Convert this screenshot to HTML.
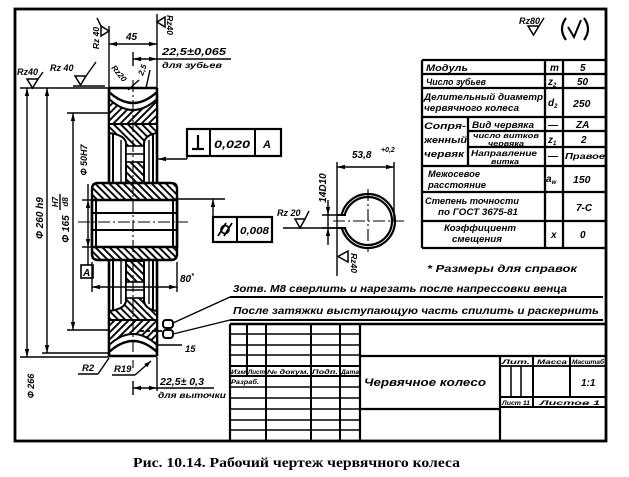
<!DOCTYPE html>
<html><head><meta charset="utf-8"><style>
html,body{margin:0;padding:0;background:#fff;}
svg{display:block;}
text{font-family:"Liberation Sans",sans-serif;font-style:italic;font-weight:bold;fill:#000;}
.cap{font-family:"Liberation Serif",serif;font-style:normal;font-weight:bold;}
.t{stroke:#000;stroke-width:1.4;fill:none;}
.m{stroke:#000;stroke-width:2;fill:none;}
.k{stroke:#000;stroke-width:2.6;fill:none;}
.cl{stroke:#000;stroke-width:1.1;fill:none;stroke-dasharray:12,3,2,3;}
</style></head><body>
<svg width="629" height="477" viewBox="0 0 629 477" xmlns="http://www.w3.org/2000/svg">
<defs>
<pattern id="ha" width="5" height="5" patternUnits="userSpaceOnUse" patternTransform="rotate(45)"><rect width="5" height="5" fill="#fff"/><line x1="2.5" y1="0" x2="2.5" y2="5" stroke="#000" stroke-width="1.9"/></pattern>
<pattern id="hb" width="5" height="5" patternUnits="userSpaceOnUse" patternTransform="rotate(-45)"><rect width="5" height="5" fill="#fff"/><line x1="2.5" y1="0" x2="2.5" y2="5" stroke="#000" stroke-width="1.9"/></pattern>
</defs>

<!-- frame -->
<rect x="15" y="9" width="591" height="432" fill="none" stroke="#000" stroke-width="2.8"/>

<!-- ===== Gear section: top half ===== -->
<line class="k" x1="109" y1="88" x2="109" y2="183"/>
<line class="k" x1="157" y1="88" x2="157" y2="183"/>
<line class="k" x1="109" y1="88" x2="157" y2="88"/>
<path d="M109,92 Q133,114 157,92" fill="none" stroke="#000" stroke-width="2.4"/>
<path d="M109,99 Q133,121 157,99 V124 H109 Z" fill="url(#ha)" stroke="#000" stroke-width="2"/>
<path d="M109,124 H157 V133 Q145,135 144,143 V183 H126 V143 Q125,135 109,133 Z" fill="url(#hb)" stroke="#000" stroke-width="2"/>
<line class="m" x1="113" y1="133" x2="113" y2="183"/>
<line class="m" x1="153" y1="133" x2="153" y2="183"/>
<line class="t" x1="121" y1="140" x2="121" y2="183"/>
<line class="t" x1="149" y1="140" x2="149" y2="183"/>
<rect x="126" y="146" width="18" height="16" fill="#fff" stroke="#000" stroke-width="1.6"/>
<line class="t" x1="126" y1="154" x2="144" y2="154"/>

<!-- ===== bottom half ===== -->
<line class="k" x1="109" y1="261" x2="109" y2="356"/>
<line class="k" x1="157" y1="261" x2="157" y2="356"/>
<line class="k" x1="109" y1="356" x2="157" y2="356"/>
<path d="M109,352 Q133,330 157,352" fill="none" stroke="#000" stroke-width="2.4"/>
<path d="M109,345 Q133,323 157,345 V320 H109 Z" fill="url(#ha)" stroke="#000" stroke-width="2"/>
<path d="M109,320 H157 V311 Q145,309 144,301 V261 H126 V301 Q125,309 109,311 Z" fill="url(#hb)" stroke="#000" stroke-width="2"/>
<line class="m" x1="113" y1="261" x2="113" y2="311"/>
<line class="m" x1="153" y1="261" x2="153" y2="311"/>
<line class="t" x1="121" y1="261" x2="121" y2="304"/>
<line class="t" x1="149" y1="261" x2="149" y2="304"/>
<rect x="126" y="282" width="18" height="16" fill="#fff" stroke="#000" stroke-width="1.6"/>
<line class="t" x1="126" y1="290" x2="144" y2="290"/>
<!-- screw -->
<line x1="140" y1="331" x2="170" y2="331" stroke="#000" stroke-width="1.8" stroke-dasharray="4,2"/>
<rect x="163" y="320" width="10" height="8" rx="3" fill="#fff" stroke="#000" stroke-width="2"/>
<rect x="163" y="330" width="10" height="8" rx="3" fill="#fff" stroke="#000" stroke-width="2"/>

<!-- ===== hub ===== -->
<path d="M98,183 H171 Q177,183 177,189 V254 Q177,260 171,260 H98 Q92,260 92,254 V189 Q92,183 98,183 Z" fill="url(#hb)" stroke="#000" stroke-width="2.4"/>
<rect x="93" y="200" width="83" height="47" fill="#fff"/>
<line class="k" x1="92" y1="200" x2="177" y2="200"/>
<line class="k" x1="92" y1="247" x2="177" y2="247"/>
<line class="m" x1="92" y1="213" x2="177" y2="213"/>
<line class="m" x1="92" y1="230" x2="177" y2="230"/>
<line class="m" x1="96" y1="200" x2="96" y2="247"/>
<line class="m" x1="173" y1="200" x2="173" y2="247"/>
<line class="k" x1="92" y1="200" x2="92" y2="247"/>
<line class="k" x1="177" y1="200" x2="177" y2="247"/>

<!-- center lines -->
<line class="cl" x1="133" y1="80" x2="133" y2="368"/>
<line class="cl" x1="78" y1="222" x2="188" y2="222"/>

<!-- ===== left dimensions ===== -->
<line class="t" x1="20" y1="88" x2="109" y2="88"/>
<line class="t" x1="73" y1="86" x2="105" y2="86"/>
<line class="t" x1="67" y1="113" x2="109" y2="113"/>
<line class="t" x1="67" y1="330" x2="109" y2="330"/>
<line class="t" x1="42" y1="353" x2="109" y2="353"/>
<line class="t" x1="20" y1="357" x2="109" y2="357"/>
<line class="t" x1="27" y1="88" x2="27" y2="357"/>
<polygon points="27,88 24.8,96 29.2,96"/><polygon points="27,357 24.8,349 29.2,349"/>
<line class="t" x1="47" y1="88" x2="47" y2="353"/>
<polygon points="47,88 44.8,96 49.2,96"/><polygon points="47,353 44.8,345 49.2,345"/>
<line class="t" x1="73" y1="113" x2="73" y2="330"/>
<polygon points="73,113 70.8,121 75.2,121"/><polygon points="73,330 70.8,322 75.2,322"/>
<line class="t" x1="82" y1="200" x2="92" y2="200"/>
<line class="t" x1="82" y1="247" x2="92" y2="247"/>
<line class="t" x1="88" y1="184" x2="88" y2="265"/>
<polygon points="88,200 85.8,208 90.2,208"/><polygon points="88,247 85.8,239 90.2,239"/>
<rect x="81" y="265" width="12" height="13" fill="#fff" stroke="#000" stroke-width="1.6"/>
<text x="83" y="276" font-size="10" font-style="normal">A</text>

<text transform="translate(34,386) rotate(-90)" font-size="9" text-anchor="middle">Ф 266</text>
<text transform="translate(43,218) rotate(-90)" font-size="10" text-anchor="middle">Ф 260 h9</text>
<text transform="translate(69,229) rotate(-90)" font-size="10" text-anchor="middle">Ф 165</text>
<text transform="translate(58,202) rotate(-90)" font-size="8" text-anchor="middle">H7</text>
<line class="t" x1="60" y1="194" x2="60" y2="210"/>
<text transform="translate(68,202) rotate(-90)" font-size="8" text-anchor="middle">d8</text>
<text transform="translate(87,160) rotate(-90)" font-size="9" text-anchor="middle">Ф 50H7</text>

<!-- 80* -->
<line class="t" x1="92" y1="262" x2="92" y2="292"/>
<line class="t" x1="177" y1="262" x2="177" y2="292"/>
<line class="t" x1="92" y1="287" x2="177" y2="287"/>
<polygon points="92,287 100,284.8 100,289.2"/><polygon points="177,287 169,284.8 169,289.2"/>
<text x="180" y="282" font-size="10">80<tspan font-size="7" dy="-4">*</tspan></text>

<!-- ===== top dimensions ===== -->
<line class="t" x1="109" y1="26" x2="109" y2="88"/>
<line class="t" x1="157" y1="14" x2="157" y2="88"/>
<line class="t" x1="109" y1="44" x2="157" y2="44"/>
<polygon points="109,44 117,41.8 117,46.2"/><polygon points="157,44 149,41.8 149,46.2"/>
<text x="126" y="40" font-size="10">45</text>

<polygon points="101,26 101,36 109,31" fill="#fff" stroke="#000" stroke-width="1.5"/>
<line class="t" x1="101" y1="26" x2="97" y2="18"/>
<text transform="translate(99,38) rotate(-90)" font-size="8.5" text-anchor="middle">Rz 40</text>

<polygon points="165,17 165,27 157,22" fill="#fff" stroke="#000" stroke-width="1.5"/>
<text transform="translate(167,25) rotate(90)" font-size="8.5" text-anchor="middle">Rz40</text>

<line class="t" x1="133" y1="52" x2="133" y2="66"/>
<line class="t" x1="133" y1="59" x2="231" y2="59"/>
<polygon points="157,59 149,56.8 149,61.2"/><polygon points="133,59 141,56.8 141,61.2"/>
<text x="162" y="55" font-size="10" textLength="64" lengthAdjust="spacingAndGlyphs">22,5±0,065</text>
<text x="162" y="68" font-size="8.5" textLength="60" lengthAdjust="spacingAndGlyphs">для зубьев</text>

<text transform="translate(111,68) rotate(50)" font-size="8">Rz20</text>
<text transform="translate(143,76) rotate(-70)" font-size="8">2,5</text>
<line class="t" x1="128" y1="90" x2="139" y2="80"/>
<line class="t" x1="146" y1="88" x2="150" y2="70"/>

<!-- left top roughness -->
<text x="17" y="75" font-size="9">Rz40</text>
<polygon points="27,79 38,79 32.5,88" fill="#fff" stroke="#000" stroke-width="1.5"/>
<line class="t" x1="38" y1="79" x2="43" y2="72"/>
<text x="50" y="71" font-size="9">Rz 40</text>
<polygon points="75,76 86,76 80.5,85" fill="#fff" stroke="#000" stroke-width="1.5"/>
<line class="t" x1="86" y1="76" x2="96" y2="62"/>

<!-- bottom labels -->
<text x="82" y="371" font-size="9.5">R2</text>
<line class="t" x1="78" y1="374" x2="98" y2="374"/>
<line class="t" x1="98" y1="374" x2="109" y2="358"/>
<text x="114" y="372" font-size="9.5">R19</text>
<line class="t" x1="112" y1="375" x2="135" y2="375"/>
<line class="t" x1="135" y1="375" x2="151" y2="361"/>
<polygon points="151,361 147.2,367.3 144.3,364"/>
<line class="t" x1="157" y1="345" x2="182" y2="345"/>
<text x="185" y="352" font-size="9.5">15</text>

<line class="t" x1="157" y1="357" x2="157" y2="391"/>
<line class="t" x1="133" y1="381" x2="133" y2="395"/>
<line class="t" x1="133" y1="388" x2="214" y2="388"/>
<polygon points="157,388 149,385.8 149,390.2"/><polygon points="133,388 141,385.8 141,390.2"/>
<text x="160" y="385" font-size="10" textLength="44" lengthAdjust="spacingAndGlyphs">22,5± 0,3</text>
<text x="158" y="398" font-size="8.5" textLength="68" lengthAdjust="spacingAndGlyphs">для выточки</text>

<!-- ===== feature control frames ===== -->
<rect x="187" y="129" width="94" height="27" fill="#fff" stroke="#000" stroke-width="2.2"/>
<line class="m" x1="210" y1="129" x2="210" y2="156"/>
<line class="m" x1="255" y1="129" x2="255" y2="156"/>
<line stroke="#000" stroke-width="2.2" x1="198" y1="135" x2="198" y2="149"/>
<line stroke="#000" stroke-width="2.2" x1="192" y1="149" x2="204" y2="149"/>
<text x="214" y="148" font-size="11" textLength="36" lengthAdjust="spacingAndGlyphs">0,020</text>
<text x="263" y="148" font-size="11" font-style="normal">A</text>
<line class="t" x1="187" y1="156" x2="187" y2="159"/>
<line class="t" x1="158" y1="159" x2="187" y2="159"/>
<polygon points="158,159 166,156.8 166,161.2"/>

<rect x="213" y="217" width="59" height="25" fill="#fff" stroke="#000" stroke-width="2.2"/>
<line class="m" x1="237" y1="217" x2="237" y2="242"/>
<circle cx="225" cy="229.5" r="4" fill="none" stroke="#000" stroke-width="1.7"/>
<line stroke="#000" stroke-width="1.7" x1="218" y1="236" x2="226" y2="223"/>
<line stroke="#000" stroke-width="1.7" x1="224" y1="236" x2="232" y2="223"/>
<text x="240" y="234" font-size="10" textLength="29" lengthAdjust="spacingAndGlyphs">0,008</text>
<line class="t" x1="175" y1="199" x2="225" y2="199"/>
<line class="t" x1="213" y1="199" x2="213" y2="217"/>
<polygon points="213,199 210.8,207 215.2,207"/>

<!-- ===== keyway view ===== -->
<circle cx="368" cy="221" r="27" fill="none" stroke="#000" stroke-width="2.2"/>
<circle cx="368" cy="221" r="24" fill="none" stroke="#000" stroke-width="2.2"/>
<rect x="334" y="215" width="12" height="13" fill="#fff"/>
<line class="m" x1="337" y1="215" x2="346" y2="215"/>
<line class="m" x1="337" y1="228" x2="346" y2="228"/>
<line class="cl" x1="333" y1="221" x2="404" y2="221"/>
<line class="cl" x1="368" y1="189" x2="368" y2="252"/>
<line class="t" x1="337" y1="162" x2="337" y2="276"/>
<line class="t" x1="394" y1="162" x2="394" y2="221"/>
<line class="t" x1="337" y1="167" x2="394" y2="167"/>
<polygon points="337,167 345,164.8 345,169.2"/><polygon points="394,167 386,164.8 386,169.2"/>
<text x="352" y="158" font-size="10">53,8</text>
<text x="381" y="152" font-size="7">+0,2</text>
<line class="t" x1="322" y1="215" x2="340" y2="215"/>
<line class="t" x1="322" y1="228" x2="340" y2="228"/>
<line class="t" x1="328" y1="200" x2="328" y2="245"/>
<polygon points="328,215 325.8,207 330.2,207"/><polygon points="328,228 325.8,236 330.2,236"/>
<text transform="translate(326,188) rotate(-90)" font-size="10" text-anchor="middle">14D10</text>
<text x="277" y="216" font-size="9">Rz 20</text>
<line class="t" x1="283" y1="228" x2="337" y2="228"/>
<polygon points="295,219 305,219 300,228" fill="#fff" stroke="#000" stroke-width="1.5"/>
<line class="t" x1="305" y1="219" x2="309" y2="211"/>
<polygon points="348,251 348,262 338,256.5" fill="#fff" stroke="#000" stroke-width="1.5"/>
<text transform="translate(351,263) rotate(90)" font-size="8.5" text-anchor="middle">Rz40</text>

<!-- ===== notes ===== -->
<text x="233" y="292" font-size="10" textLength="334" lengthAdjust="spacingAndGlyphs">3отв. М8 сверлить и нарезать после напрессовки венца</text>
<line class="m" x1="230" y1="297" x2="603" y2="297"/>
<text x="233" y="314" font-size="10" textLength="366" lengthAdjust="spacingAndGlyphs">После затяжки выступающую часть спилить и раскернить</text>
<line class="m" x1="230" y1="320" x2="603" y2="320"/>
<line class="t" x1="173" y1="323" x2="230" y2="297"/>
<line class="t" x1="173" y1="334" x2="230" y2="320"/>

<!-- ===== spec table ===== -->
<g stroke="#000" stroke-width="2.3" fill="none">
<line x1="422" y1="60" x2="606" y2="60"/>
<line x1="422" y1="74" x2="606" y2="74"/>
<line x1="422" y1="88" x2="606" y2="88"/>
<line x1="422" y1="117" x2="606" y2="117"/>
<line x1="468" y1="131" x2="606" y2="131"/>
<line x1="468" y1="147" x2="606" y2="147"/>
<line x1="422" y1="166" x2="606" y2="166"/>
<line x1="422" y1="192" x2="606" y2="192"/>
<line x1="422" y1="221" x2="606" y2="221"/>
<line x1="422" y1="248" x2="606" y2="248"/>
<line x1="422" y1="60" x2="422" y2="248"/>
<line x1="545" y1="60" x2="545" y2="248"/>
<line x1="563" y1="60" x2="563" y2="248"/>
<line x1="468" y1="117" x2="468" y2="166"/>
</g>
<text x="426" y="71" font-size="9.5" textLength="42" lengthAdjust="spacingAndGlyphs">Модуль</text>
<text x="550" y="71" font-size="10">m</text>
<text x="580" y="71" font-size="10">5</text>
<text x="426" y="85" font-size="9.5" textLength="60" lengthAdjust="spacingAndGlyphs">Число зубьев</text>
<text x="548" y="85" font-size="10">z<tspan font-size="6" dy="2">2</tspan></text>
<text x="577" y="85" font-size="10">50</text>
<text x="424" y="100" font-size="9" textLength="119" lengthAdjust="spacingAndGlyphs">Делительный диаметр</text>
<text x="424" y="111" font-size="9" textLength="95" lengthAdjust="spacingAndGlyphs">червячного колеса</text>
<text x="548" y="106" font-size="10">d<tspan font-size="6" dy="2">2</tspan></text>
<text x="573" y="107" font-size="10.5">250</text>
<text x="424" y="129" font-size="9" textLength="42" lengthAdjust="spacingAndGlyphs">Сопря-</text>
<text x="424" y="143" font-size="9" textLength="43" lengthAdjust="spacingAndGlyphs">женный</text>
<text x="424" y="157" font-size="9" textLength="40" lengthAdjust="spacingAndGlyphs">червяк</text>
<text x="472" y="128" font-size="9" textLength="62" lengthAdjust="spacingAndGlyphs">Вид червяка</text>
<text x="548" y="128" font-size="10">—</text>
<text x="576" y="128" font-size="10">ZA</text>
<text x="473" y="138" font-size="7" textLength="66" lengthAdjust="spacingAndGlyphs">число витков</text>
<text x="488" y="146" font-size="7" textLength="36" lengthAdjust="spacingAndGlyphs">червяка</text>
<text x="548" y="143" font-size="10">z<tspan font-size="6" dy="2">1</tspan></text>
<text x="581" y="143" font-size="10">2</text>
<text x="471" y="156" font-size="8.5" textLength="66" lengthAdjust="spacingAndGlyphs">Направление</text>
<text x="491" y="164" font-size="7" textLength="28" lengthAdjust="spacingAndGlyphs">витка</text>
<text x="548" y="159" font-size="10">—</text>
<text x="565" y="159" font-size="8" textLength="40" lengthAdjust="spacingAndGlyphs">Правое</text>
<text x="428" y="177" font-size="9" textLength="52" lengthAdjust="spacingAndGlyphs">Межосевое</text>
<text x="428" y="188" font-size="9" textLength="58" lengthAdjust="spacingAndGlyphs">расстояние</text>
<text x="546" y="182" font-size="10">a<tspan font-size="6" dy="2">w</tspan></text>
<text x="573" y="183" font-size="10.5">150</text>
<text x="425" y="204" font-size="9" textLength="94" lengthAdjust="spacingAndGlyphs">Степень точности</text>
<text x="438" y="215" font-size="9" textLength="80" lengthAdjust="spacingAndGlyphs">по ГОСТ 3675-81</text>
<text x="576" y="211" font-size="10">7-С</text>
<text x="444" y="231" font-size="9" textLength="72" lengthAdjust="spacingAndGlyphs">Коэффициент</text>
<text x="452" y="242" font-size="9" textLength="50" lengthAdjust="spacingAndGlyphs">смещения</text>
<text x="551" y="238" font-size="10">x</text>
<text x="580" y="238" font-size="10">0</text>
<text x="427" y="272" font-size="10" textLength="150" lengthAdjust="spacingAndGlyphs">* Размеры для справок</text>

<!-- Rz80 (V) -->
<text x="519" y="24" font-size="9">Rz80</text>
<polygon points="528,26 539,26 533.5,35" fill="#fff" stroke="#000" stroke-width="1.5"/>
<line class="t" x1="539" y1="26" x2="544" y2="18"/>
<path d="M566,18 Q558,29 566,40" fill="none" stroke="#000" stroke-width="2.2"/>
<path d="M584,18 Q592,29 584,40" fill="none" stroke="#000" stroke-width="2.2"/>
<path d="M568,27 L574,37 L581,20" fill="none" stroke="#000" stroke-width="2"/>

<!-- ===== title block ===== -->
<g stroke="#000" fill="none">
<line stroke-width="2.4" x1="230" y1="324" x2="606" y2="324"/>
<line stroke-width="2.2" x1="230" y1="324" x2="230" y2="441"/>
<line stroke-width="2.2" x1="360" y1="324" x2="360" y2="441"/>
<line stroke-width="1.4" x1="230" y1="334" x2="360" y2="334"/>
<line stroke-width="1.4" x1="230" y1="345" x2="360" y2="345"/>
<line stroke-width="1.4" x1="230" y1="355" x2="360" y2="355"/>
<line stroke-width="2" x1="230" y1="366" x2="360" y2="366"/>
<line stroke-width="2" x1="230" y1="376" x2="360" y2="376"/>
<line stroke-width="1.4" x1="230" y1="387" x2="360" y2="387"/>
<line stroke-width="1.4" x1="230" y1="398" x2="360" y2="398"/>
<line stroke-width="1.4" x1="230" y1="409" x2="360" y2="409"/>
<line stroke-width="1.4" x1="230" y1="420" x2="360" y2="420"/>
<line stroke-width="1.4" x1="230" y1="430" x2="360" y2="430"/>
<line stroke-width="2" x1="247" y1="324" x2="247" y2="376"/>
<line stroke-width="2" x1="266" y1="324" x2="266" y2="441"/>
<line stroke-width="2" x1="311" y1="324" x2="311" y2="441"/>
<line stroke-width="2" x1="340" y1="324" x2="340" y2="441"/>
<line stroke-width="2.2" x1="360" y1="356" x2="606" y2="356"/>
<line stroke-width="2.2" x1="360" y1="409" x2="500" y2="409"/>
<line stroke-width="2.2" x1="500" y1="356" x2="500" y2="441"/>
<line stroke-width="1.8" x1="500" y1="366" x2="606" y2="366"/>
<line stroke-width="2" x1="500" y1="397" x2="606" y2="397"/>
<line stroke-width="2" x1="500" y1="407" x2="606" y2="407"/>
<line stroke-width="1.5" x1="511" y1="366" x2="511" y2="397"/>
<line stroke-width="1.5" x1="521" y1="366" x2="521" y2="397"/>
<line stroke-width="2" x1="533" y1="356" x2="533" y2="407"/>
<line stroke-width="2" x1="570" y1="356" x2="570" y2="397"/>
</g>
<text x="231" y="374" font-size="6" textLength="15" lengthAdjust="spacingAndGlyphs">Изм</text>
<text x="248" y="374" font-size="6" textLength="17" lengthAdjust="spacingAndGlyphs">Лист</text>
<text x="267" y="374" font-size="6" textLength="42" lengthAdjust="spacingAndGlyphs">№ докум.</text>
<text x="312" y="374" font-size="6" textLength="26" lengthAdjust="spacingAndGlyphs">Подп.</text>
<text x="341" y="374" font-size="6" textLength="18" lengthAdjust="spacingAndGlyphs">Дата</text>
<text x="231" y="384" font-size="6" textLength="28" lengthAdjust="spacingAndGlyphs">Разраб.</text>
<text x="364" y="386" font-size="11" textLength="122" lengthAdjust="spacingAndGlyphs">Червячное колесо</text>
<text x="502" y="364" font-size="6" textLength="28" lengthAdjust="spacingAndGlyphs">Лит.</text>
<text x="537" y="364" font-size="6" textLength="30" lengthAdjust="spacingAndGlyphs">Масса</text>
<text x="572" y="364" font-size="6" textLength="32" lengthAdjust="spacingAndGlyphs">Масштаб</text>
<text x="581" y="386" font-size="10">1:1</text>
<text x="502" y="405" font-size="6" textLength="28" lengthAdjust="spacingAndGlyphs">Лист 11</text>
<text x="540" y="405" font-size="6" textLength="60" lengthAdjust="spacingAndGlyphs">Листов 1</text>

<!-- caption -->
<text class="cap" x="133" y="467" font-size="14" textLength="327" lengthAdjust="spacingAndGlyphs">Рис. 10.14. Рабочий чертеж червячного колеса</text>
</svg>
</body></html>
